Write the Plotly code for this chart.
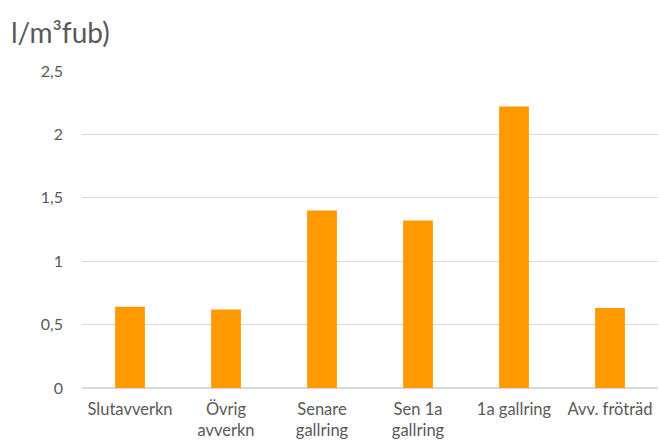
import plotly.graph_objects as go

categories = ["Slutavverkn", "Övrig<br>avverkn", "Senare<br>gallring", "Sen 1a<br>gallring", "1a gallring", "Avv. fröträd"]
values = [0.64, 0.62, 1.40, 1.32, 2.22, 0.63]
tick_vals = [0, 0.5, 1, 1.5, 2, 2.5]
tick_text = ["0", "0,5", "1", "1,5", "2", "2,5"]
title_text = "l/m³fub)"

fig = go.Figure(go.Bar(x=categories, y=values, marker=dict(color="#FF9900", line=dict(width=0))))

fig.update_layout(
    width=659, height=447,
    margin=dict(l=82, r=1, t=71, b=59),
    paper_bgcolor="white", plot_bgcolor="white",
    bargap=0.69,
    font=dict(family="Lato, 'Open Sans', sans-serif", color="#595959", size=16),
    showlegend=False,
    annotations=[dict(text=title_text, x=0, y=1, xref="paper", yref="paper",
                      xanchor="left", yanchor="middle", showarrow=False,
                      font=dict(size=28, color="#595959"), xshift=-73, yshift=39)],
)
fig.update_yaxes(range=[0, 2.5], tickvals=tick_vals, ticktext=tick_text,
                 showgrid=True, gridcolor="#D9D9D9", gridwidth=1,
                 zeroline=True, zerolinecolor="#D9D9D9", showline=False,
                 ticks="", ticklabelstandoff=18, tickfont=dict(size=16, color="#595959"))
fig.update_xaxes(showgrid=False, showline=False, ticks="", ticklabelstandoff=9,
                 tickfont=dict(size=16.5, color="#595959"))

fig.write_html("out.html")
